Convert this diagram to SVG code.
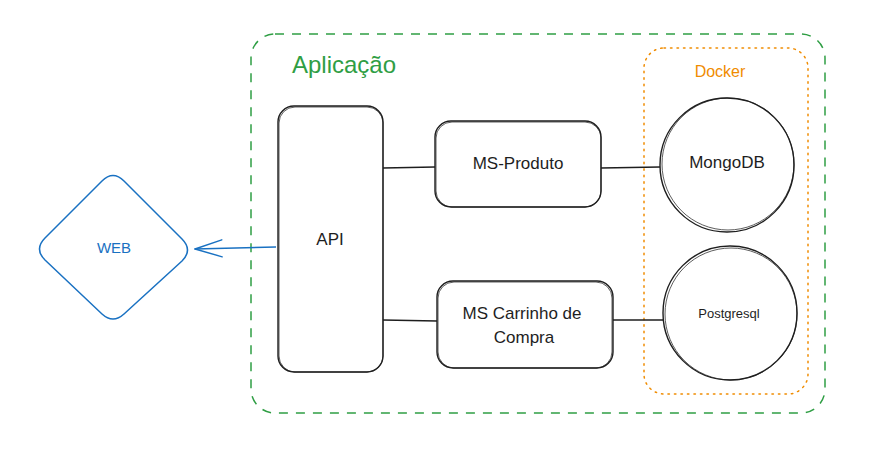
<svg xmlns="http://www.w3.org/2000/svg" width="891" height="467" viewBox="0 0 891 467">
<defs>
<style>
.node{fill:#ffffff;stroke:#1e1e1e;stroke-width:1.4}
.sk{fill:none;stroke:#1e1e1e;stroke-width:0.9;opacity:0.8}
.t{font-family:"Liberation Sans",Arial,sans-serif;fill:#1e1e1e;text-anchor:middle}
.conn{stroke:#1e1e1e;stroke-width:1.6;fill:none}
</style>
<marker id="openArrow" viewBox="0 0 30 20" refX="29" refY="10" markerWidth="30" markerHeight="20" markerUnits="userSpaceOnUse" orient="auto">
<path d="M2 1.5 L29 10 L2 18.5" fill="none" stroke="#1971c2" stroke-width="1.4" stroke-linecap="round"/>
</marker>
</defs>
<rect width="891" height="467" fill="#ffffff"/>

<g id="aplicacao">
<rect x="251" y="34" width="574" height="379" rx="24" fill="none" stroke="#2f9e44" stroke-width="1.5" stroke-dasharray="9 8"/>
<text x="344" y="73" class="t" style="fill:#2f9e44;font-size:24px">Aplicação</text>
</g>

<g id="docker">
<rect x="644" y="48" width="164" height="346" rx="20" fill="none" stroke="#f08c00" stroke-width="1.5" stroke-dasharray="1.5 5" stroke-linecap="round"/>
<text x="720" y="77" class="t" style="fill:#f08c00;font-size:16px">Docker</text>
</g>

<g id="connectors">
<line class="conn" x1="383" y1="168" x2="435" y2="167"/>
<line class="conn" x1="601" y1="168" x2="660" y2="167"/>
<line class="conn" x1="383" y1="320" x2="437" y2="321"/>
<line class="conn" x1="613" y1="320" x2="663" y2="320"/>
<line x1="276" y1="247" x2="195" y2="249" stroke="#1971c2" stroke-width="1.4" marker-end="url(#openArrow)"/>
</g>

<g id="api">
<rect class="node" x="278" y="106" width="105" height="266" rx="16"/>
<rect class="sk" x="279" y="107" width="104" height="265" rx="16"/>
<text x="330" y="245" class="t" style="font-size:17px">API</text>
</g>

<g id="ms-produto">
<rect class="node" x="435" y="121" width="166" height="86" rx="16"/>
<rect class="sk" x="436" y="122" width="165" height="85" rx="16"/>
<text x="518" y="169" class="t" style="font-size:17px">MS-Produto</text>
</g>

<g id="ms-carrinho">
<rect class="node" x="437" y="281" width="176" height="87" rx="16"/>
<rect class="sk" x="438" y="282" width="174" height="86" rx="16"/>
<text x="522" y="319" class="t" style="font-size:17px">MS Carrinho de</text>
<text x="524" y="343" class="t" style="font-size:17px">Compra</text>
</g>

<g id="mongodb">
<circle class="node" cx="727" cy="165" r="67"/>
<circle class="sk" cx="728" cy="164" r="66"/>
<text x="727" y="168" class="t" style="font-size:17px">MongoDB</text>
</g>

<g id="postgresql">
<circle class="node" cx="730" cy="313" r="67"/>
<circle class="sk" cx="731" cy="314" r="66"/>
<text x="729" y="318" class="t" style="font-size:13px">Postgresql</text>
</g>

<g id="web">
<path d="M102 181 Q113 170 124 181 L182 239 Q193 250 182 261 L124 314 Q113 324 102 314 L45 260 Q34 249 45 238 Z" fill="#ffffff" stroke="#1971c2" stroke-width="1.5"/>
<text x="114" y="253" class="t" style="fill:#1971c2;font-size:15px">WEB</text>
</g>
</svg>
